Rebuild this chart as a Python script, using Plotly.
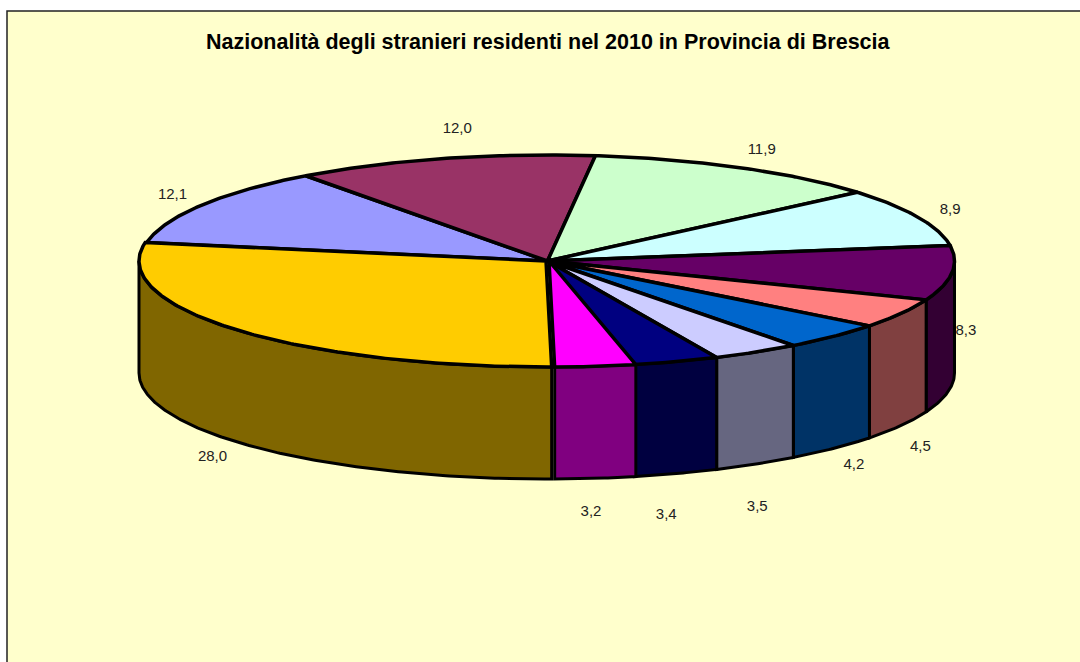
import math
import plotly.graph_objects as go

# Data, clockwise from the first slice
VALUES = [12.1, 12.0, 11.9, 8.9, 8.3, 4.5, 4.2, 3.5, 3.4, 3.2, 28.0]
LABELS = ["12,1", "12,0", "11,9", "8,9", "8,3", "4,5", "4,2", "3,5", "3,4", "3,2", "28,0"]
TITLE = "Nazionalità degli stranieri residenti nel 2010 in Provincia di Brescia"

# Styles
TOP_COLORS = ["#9999FF", "#993366", "#CCFFCC", "#CCFFFF", "#660066", "#FF8080",
              "#0066CC", "#CCCCFF", "#000080", "#FF00FF", "#FFCC00"]
SIDE_COLORS = ["#4D4D80", "#4D1A33", "#668066", "#668080", "#330033", "#804040",
               "#003366", "#666680", "#000040", "#800080", "#806600"]

# Geometry of the projected pie (axis units = pixels)
CX, CY, RX, RY, DEPTH = 547.5, 261.0, 407.0, 106.0, 112.0
START_ANGLE = 280.0
EXPLODE_X = [0, 0, 0, 0, 0, 0, 0, 0, 0, 1.5, -1.5]
LABEL_OFFSETS = [(-29, -10), (14, -29), (22, -17), (32, -7), (14, 58), (19, 134),
                 (20, 129), (1, 155), (-10, 154), (-3, 146), (-25, 128)]


def rim(angle, dx=0.0, drop=0.0):
    a = math.radians(angle)
    return CX + dx + RX * math.sin(a), CY - RY * math.cos(a) + drop


def arc(a0, a1, dx=0.0, drop=0.0):
    n = max(2, int(abs(a1 - a0) * 2))
    return [rim(a0 + (a1 - a0) * i / n, dx, drop) for i in range(n + 1)]


total = sum(VALUES)
spans = []
angle = START_ANGLE
for v in VALUES:
    spans.append((angle, angle + v / total * 360.0))
    angle += v / total * 360.0

fig = go.Figure()


def poly(points, fill, width):
    fig.add_trace(go.Scatter(
        x=[p[0] for p in points], y=[p[1] for p in points],
        mode="lines", fill="toself", fillcolor=fill,
        line=dict(color="black", width=width, shape="linear"),
        hoverinfo="skip", showlegend=False))


# Walls: only the front half (clock angles 90..270) is visible
for i, (a0, a1) in enumerate(spans):
    for shift in (0, 360):
        lo, hi = max(a0, 90 + shift), min(a1, 270 + shift)
        if lo < hi:
            dx = EXPLODE_X[i]
            pts = arc(lo, hi, dx) + arc(hi, lo, dx, DEPTH)
            poly(pts + [pts[0]], SIDE_COLORS[i], 3)

# Top faces
for i, (a0, a1) in enumerate(spans):
    dx = EXPLODE_X[i]
    pts = [(CX + dx, CY)] + arc(a0, a1, dx) + [(CX + dx, CY)]
    poly(pts, TOP_COLORS[i], 3.5)

# Data labels, placed relative to the rim at each slice's mid-angle
lx, ly = [], []
for (a0, a1), (ox, oy) in zip(spans, LABEL_OFFSETS):
    x, y = rim((a0 + a1) / 2)
    lx.append(x + ox)
    ly.append(y + oy)
fig.add_trace(go.Scatter(x=lx, y=ly, mode="text", text=LABELS, textposition="middle center",
                         textfont=dict(family="Liberation Sans", size=15, color="#222222"),
                         hoverinfo="skip", showlegend=False))

fig.update_layout(
    width=1080, height=662, margin=dict(l=0, r=0, t=0, b=0),
    paper_bgcolor="white", plot_bgcolor="white",
    xaxis=dict(range=[0, 1080], visible=False, fixedrange=True),
    yaxis=dict(range=[662, 0], visible=False, fixedrange=True),
    shapes=[dict(type="rect", xref="x", yref="y", x0=7, y0=11, x1=1090, y1=680,
                 fillcolor="#FFFFCC", line=dict(color="#222222", width=1.5), layer="below")],
    annotations=[dict(x=548.5, y=42, xref="x", yref="y", text="<b>" + TITLE + "</b>", showarrow=False,
                      font=dict(family="Liberation Sans", size=21.5, color="black"))],
)
fig.write_html("out.html", post_script="document.body.style.margin='0';", config={"displayModeBar": False})
